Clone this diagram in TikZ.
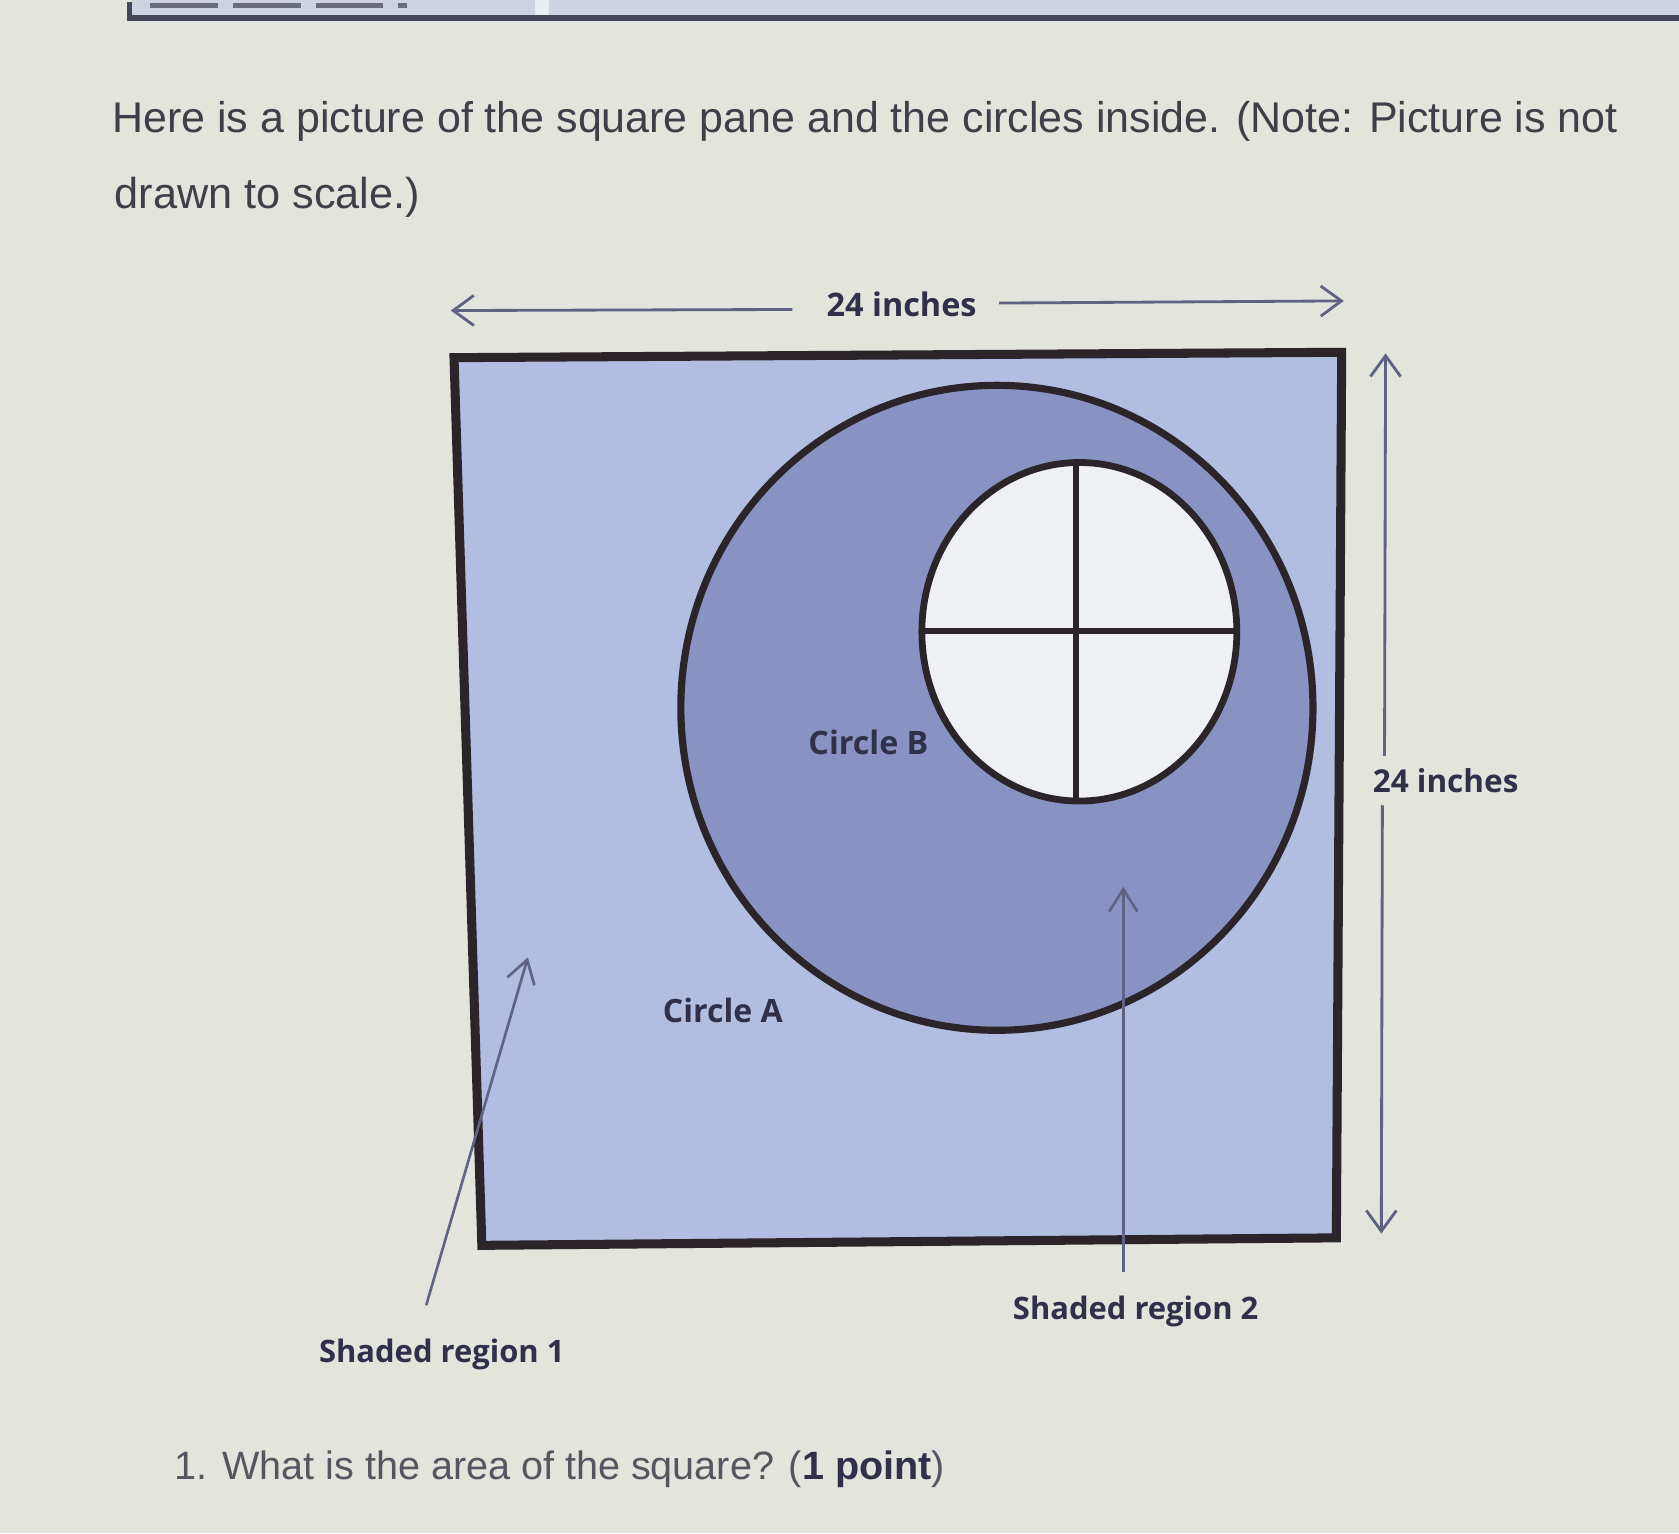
\documentclass[tikz,border=0pt]{standalone}
\usepackage{fontspec}
\setmainfont{Liberation Sans}
\newfontfamily\labfont{Open Sans}
\usetikzlibrary{arrows.meta}
\definecolor{bg}{HTML}{E3E4DC}
\definecolor{strip}{HTML}{CDD3E2}
\definecolor{stripline}{HTML}{45465A}
\definecolor{sqfill}{HTML}{B1BEE2}
\definecolor{cafill}{HTML}{8893C4}
\definecolor{cbfill}{HTML}{EEF0F4}
\definecolor{edge}{HTML}{2B2428}
\definecolor{arr}{HTML}{5E6384}
\definecolor{bodytext}{HTML}{3E3F48}
\definecolor{qtext}{HTML}{555660}
\definecolor{labtext}{HTML}{30304A}
\tikzset{
  txt/.style={inner sep=0pt, outer sep=0pt, anchor=base west},
  body/.style={txt, text=bodytext},
  lab/.style={txt, text=labtext, font=\labfont\bfseries},
  dim/.style={draw=arr, line width=0.75pt},
  dimtip/.style={dim, -{Straight Barb[length=5.5pt,width=8pt,line width=0.75pt]}},
  pointer/.style={draw=arr, line width=0.7pt, -{Straight Barb[length=6pt,width=7.5pt,line width=0.7pt]}},
}
\begin{document}
\begin{tikzpicture}[x=0.01cm,y=-0.01cm]
\useasboundingbox (0,0) rectangle (1568,1432);
\fill[bg] (0,0) rectangle (1568,1432);
% top strip of the page
\fill[strip] (122,0) rectangle (1568,15);
\fill[white!60!strip] (500,0) rectangle (513,15);
\draw[stripline, line width=1.6pt] (119,17) -- (1568,17);
\draw[stripline, line width=1.2pt] (121,2) -- (121,20);
\draw[stripline!80, line width=1.2pt, dash pattern=on 18pt off 4pt] (140,5) -- (380,5);
% heading text
\node[body] (l1) at (105,124) {\resizebox{14.05cm}{!}{Here is a picture of the square pane and the circles inside. (Note: Picture is not}};
\node[body] (l2) at (107,195) {\resizebox{2.85cm}{!}{drawn to scale.)}};
% square pane
\coordinate (tl) at (424,334);
\coordinate (tr) at (1253,329);
\coordinate (br) at (1248,1156);
\coordinate (bl) at (450,1163);
\filldraw[fill=sqfill, draw=edge, line width=2.4pt, line join=miter] (tl) -- (tr) -- (br) -- (bl) -- cycle;
% circle A
\coordinate (ca) at (931,661);
\filldraw[fill=cafill, draw=edge, line width=1.9pt] (ca) ellipse [x radius=2.95cm, y radius=3.01cm];
% circle B with cross
\coordinate (cb) at (1008,590);
\fill[cbfill] (cb) ellipse [x radius=1.47cm, y radius=1.58cm];
\begin{scope}
  \clip (cb) ellipse [x radius=1.47cm, y radius=1.58cm];
  \coordinate (vt) at (1005,420);
  \coordinate (vb) at (1005,760);
  \coordinate (hl) at (850,589);
  \coordinate (hr) at (1165,589);
  \draw[edge, line width=1.5pt] (vt) -- (vb);
  \draw[edge, line width=1.5pt] (hl) -- (hr);
\end{scope}
\draw[edge, line width=1.8pt] (cb) ellipse [x radius=1.47cm, y radius=1.58cm];
% top dimension
\node[lab] (tdim) at (772,296) {\resizebox{1.40cm}{!}{24 inches}};
\coordinate (tdl) at (421,290);
\coordinate (tdle) at (740,289);
\coordinate (tdrs) at (933,283);
\coordinate (tdr) at (1255,281);
\draw[dimtip] (tdle) -- (tdl);
\draw[dimtip] (tdrs) -- (tdr);
% right dimension
\node[lab] (rdim) at (1282,740) {\resizebox{1.36cm}{!}{24 inches}};
\coordinate (rdt) at (1294,330);
\coordinate (rdte) at (1293,706);
\coordinate (rdbs) at (1291,752);
\coordinate (rdb) at (1290,1152);
\draw[dimtip] (rdte) -- (rdt);
\draw[dimtip] (rdbs) -- (rdb);
% labels
\node[lab] (lcb) at (755,705) {\resizebox{1.12cm}{!}{Circle B}};
\node[lab] (lca) at (619,955) {\resizebox{1.12cm}{!}{Circle A}};
\node[lab] (lsr2) at (946,1232) {\resizebox{2.29cm}{!}{Shaded region 2}};
\node[lab] (lsr1) at (298,1272) {\resizebox{2.29cm}{!}{Shaded region 1}};
% pointers
\coordinate (p1s) at (398,1219);
\coordinate (p1e) at (493,894);
\draw[pointer] (p1s) -- (p1e);
\coordinate (p2s) at (1049,1188);
\coordinate (p2e) at (1049,828);
\draw[pointer] (p2s) -- (p2e);
% question
\node[txt, text=qtext] (q) at (163,1382) {\resizebox{7.19cm}{!}{1. What is the area of the square? ({\bfseries\color{labtext}1 point})}};
\end{tikzpicture}
\end{document}
